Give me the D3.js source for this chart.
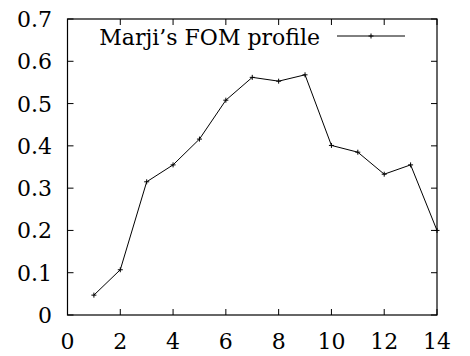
<!DOCTYPE html>
<html>
<head>
<meta charset="utf-8">
<script src="https://cdn.jsdelivr.net/npm/d3@7"></script>
<style>
  html, body { margin: 0; padding: 0; background: #fff; }
  svg { display: block; }
</style>
</head>
<body>
<svg id="chart" width="470" height="356"></svg>
<script>
// FOM profile samples
const xs = [1, 2, 3, 4, 5, 6, 7, 8, 9, 10, 11, 12, 13, 14];
const fom = [0.047, 0.107, 0.315, 0.355, 0.416, 0.508, 0.562, 0.553, 0.568, 0.401, 0.385, 0.333, 0.355, 0.2];
const xTicks = [0, 2, 4, 6, 8, 10, 12, 14];
const yTicks = [0, 0.1, 0.2, 0.3, 0.4, 0.5, 0.6, 0.7];
const seriesName = "Marji\u2019s FOM profile";

const FONT = "'DejaVu Serif', serif";
const FS = 22;
const svg = d3.select("#chart").style("font-family", FONT);
const L = 67.5, R = 437, T = 19, B = 315;
const x = d3.scaleLinear().domain([0, 14]).range([L, R]);
const y = d3.scaleLinear().domain([0, 0.7]).range([B, T]);
const tick = 6;

// plot border
svg.append("rect").attr("x", L).attr("y", T).attr("width", R - L).attr("height", B - T)
  .attr("fill", "none").attr("stroke", "#000").attr("stroke-width", 1.2);

// inward ticks, mirrored on the opposite sides
const g = svg.append("g").attr("stroke", "#000").attr("stroke-width", 1);
xTicks.forEach(v => {
  g.append("line").attr("x1", x(v)).attr("x2", x(v)).attr("y1", B).attr("y2", B - tick);
  g.append("line").attr("x1", x(v)).attr("x2", x(v)).attr("y1", T).attr("y2", T + tick);
});
yTicks.forEach(v => {
  g.append("line").attr("x1", L).attr("x2", L + tick).attr("y1", y(v)).attr("y2", y(v));
  g.append("line").attr("x1", R).attr("x2", R - tick).attr("y1", y(v)).attr("y2", y(v));
});

// tick labels
svg.selectAll(".xl").data(xTicks).enter().append("text")
  .attr("x", d => x(d)).attr("y", 349).attr("text-anchor", "middle")
  .attr("font-size", FS).text(d => d);
svg.selectAll(".yl").data(yTicks).enter().append("text")
  .attr("x", 52).attr("y", d => y(d) + 8).attr("text-anchor", "end")
  .attr("font-size", FS).text(d => d === 0 ? "0" : d.toFixed(1));

// series line
const pts = xs.map((v, i) => [v, fom[i]]);
svg.append("path").datum(pts)
  .attr("d", d3.line().x(d => x(d[0])).y(d => y(d[1])))
  .attr("fill", "none").attr("stroke", "#000").attr("stroke-width", 1);

// plus-shaped point markers
const plus = (sel, cx, cy) => {
  sel.append("line").attr("x1", cx - 2.5).attr("x2", cx + 2.5).attr("y1", cy).attr("y2", cy);
  sel.append("line").attr("x1", cx).attr("x2", cx).attr("y1", cy - 2.5).attr("y2", cy + 2.5);
};
const mk = svg.append("g").attr("stroke", "#000").attr("stroke-width", 1);
pts.forEach(d => plus(mk, x(d[0]), y(d[1])));

// legend
svg.append("text").attr("x", 320).attr("y", 45).attr("text-anchor", "end")
  .attr("font-size", FS).text(seriesName);
svg.append("line").attr("x1", 337).attr("x2", 405).attr("y1", 36).attr("y2", 36)
  .attr("stroke", "#000").attr("stroke-width", 1);
plus(mk, 371, 36);
</script>
</body>
</html>
